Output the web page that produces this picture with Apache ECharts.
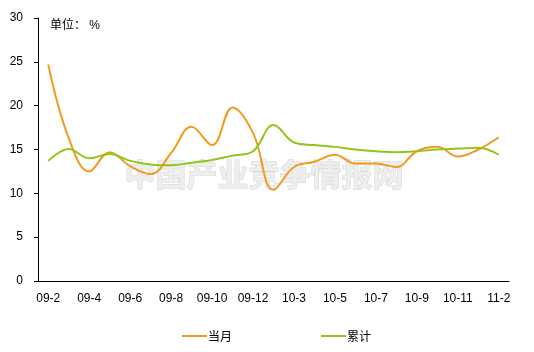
<!DOCTYPE html>
<html>
<head>
<meta charset="utf-8">
<script src="https://cdn.jsdelivr.net/npm/echarts@6/dist/echarts.min.js"></script>
<style>
  html, body { margin: 0; padding: 0; background: #fff; }
  #chart { width: 534px; height: 352px; }
</style>
</head>
<body>
<div id="chart"></div>
<script>
// months (Jan/Feb combined, so no xx-1)
const months = ['09-2', '09-3', '09-4', '09-5', '09-6', '09-7', '09-8', '09-9', '09-10', '09-11', '09-12',
  '10-2', '10-3', '10-4', '10-5', '10-6', '10-7', '10-8', '10-9', '10-10', '10-11', '10-12', '11-2']
const monthly = [24.7, 16.3, 12.5, 14.7, 13.1, 12.2, 14.6, 17.6, 15.5, 19.8, 16.9,
  10.4, 13.0, 13.6, 14.4, 13.4, 13.4, 13.0, 14.8, 15.3, 14.2, 15.0, 16.4]
const cumulative = [13.7, 15.05, 14.0, 14.5, 13.7, 13.3, 13.2, 13.5, 13.8, 14.3, 14.8,
  17.8, 15.8, 15.5, 15.3, 15.0, 14.8, 14.7, 14.8, 15.0, 15.1, 15.2, 14.4]
const seriesNames = ['当月', '累计']

const font = '"Liberation Sans", Arial, "Noto Sans CJK SC", sans-serif'
const chart = echarts.init(document.getElementById('chart'))

chart.setOption({
  animation: false,
  textStyle: { fontFamily: font },
  grid: { left: 38, right: 25, top: 18, bottom: 71, containLabel: false },
  graphic: [
    {
      type: 'text', left: 50, top: 20,
      style: { text: '单位： %', fontSize: 12, fill: '#000', fontFamily: font }
    },
    {
      // watermark
      type: 'text', left: 124, top: 158, z: -1,
      style: {
        text: '中国产业竞争情报网', fontSize: 31, fontWeight: 'bold',
        fill: '#eeeeee', stroke: '#d4d4d4', lineWidth: 1,
        fontFamily: '"Noto Sans CJK SC", sans-serif'
      }
    }
  ],
  legend: {
    data: seriesNames,
    left: 177, top: 325,
    itemWidth: 25, itemHeight: 2, itemGap: 89,
    icon: 'rect',
    textStyle: { fontSize: 12, color: '#000', fontFamily: '"Noto Sans CJK SC", sans-serif', padding: [0, 0, 0, -4] }
  },
  xAxis: {
    type: 'category',
    data: months,
    boundaryGap: true,
    axisLine: { lineStyle: { color: '#000', width: 1 } },
    axisTick: { inside: true, length: 4, interval: 0, lineStyle: { color: '#000' } },
    axisLabel: { interval: 1, color: '#000', fontSize: 12, margin: 12 }
  },
  yAxis: {
    type: 'value',
    min: 0, max: 30, interval: 5,
    axisLine: { show: true, lineStyle: { color: '#000', width: 1 } },
    axisTick: { show: true, length: 4, lineStyle: { color: '#000' } },
    axisLabel: { color: '#000', fontSize: 12, margin: 15 },
    splitLine: { show: false }
  },
  series: [
    {
      name: seriesNames[0], type: 'line', data: monthly, smooth: 0.4,
      symbol: 'none', lineStyle: { color: '#F39A1E', width: 2 }, itemStyle: { color: '#F39A1E' }
    },
    {
      name: seriesNames[1], type: 'line', data: cumulative, smooth: 0.4,
      symbol: 'none', lineStyle: { color: '#92C51B', width: 2 }, itemStyle: { color: '#92C51B' }
    }
  ]
})
</script>
</body>
</html>
